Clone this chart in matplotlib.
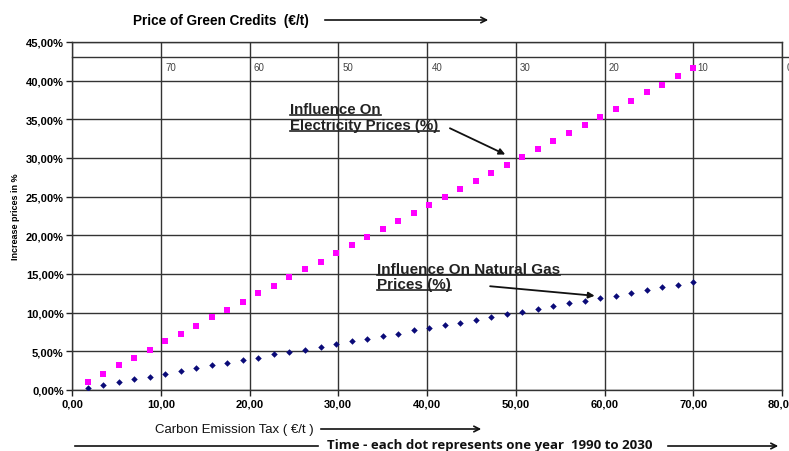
import matplotlib
matplotlib.use('Agg')
import matplotlib.pyplot as plt
from matplotlib.lines import Line2D

plt.rcParams['font.family'] = ['Liberation Sans', 'DejaVu Sans']

# carbon emission tax (EUR/t), one dot per year
tax = [1.75, 3.5, 5.25, 7.0, 8.75, 10.5, 12.25, 14.0, 15.75, 17.5,
       19.25, 21.0, 22.75, 24.5, 26.25, 28.0, 29.75, 31.5, 33.25, 35.0,
       36.75, 38.5, 40.25, 42.0, 43.75, 45.5, 47.25, 49.0, 50.75, 52.5,
       54.25, 56.0, 57.75, 59.5, 61.25, 63.0, 64.75, 66.5, 68.25, 70.0]
# increase in electricity prices (%)
electricity = [1.0, 2.1, 3.2, 4.2, 5.2, 6.3, 7.3, 8.3, 9.4, 10.4,
               11.4, 12.5, 13.5, 14.6, 15.6, 16.6, 17.7, 18.7, 19.8, 20.8,
               21.8, 22.9, 23.9, 24.9, 26.0, 27.0, 28.0, 29.1, 30.1, 31.2,
               32.2, 33.2, 34.3, 35.3, 36.4, 37.4, 38.5, 39.5, 40.6, 41.6]
# increase in natural gas prices (%)
gas = [0.3, 0.7, 1.0, 1.4, 1.7, 2.1, 2.4, 2.8, 3.2, 3.5,
       3.9, 4.2, 4.6, 4.9, 5.2, 5.6, 5.9, 6.3, 6.6, 7.0,
       7.3, 7.7, 8.0, 8.4, 8.7, 9.1, 9.4, 9.8, 10.1, 10.5,
       10.8, 11.2, 11.5, 11.9, 12.2, 12.6, 12.9, 13.3, 13.6, 14.0]

x_ticks = [0, 10, 20, 30, 40, 50, 60, 70, 80]
y_ticks = [0, 5, 10, 15, 20, 25, 30, 35, 40, 45]
credit_labels = ['70', '60', '50', '40', '30', '20', '10', '0']

fig = plt.figure(figsize=(7.89, 4.52), dpi=100)
ax = fig.add_axes([72 / 789, 1 - 391 / 452, 710 / 789, 348 / 452])

ax.scatter(tax, electricity, marker='s', s=24, color='#ff00ff', zorder=3, linewidths=0)
ax.scatter(tax, gas, marker='D', s=11, color='#0a0a78', zorder=3, linewidths=0)

ax.set_xlim(0, 80)
ax.set_ylim(0, 45)
ax.set_xticks(x_ticks)
ax.set_xticklabels(['%d,00' % v for v in x_ticks], fontsize=8, fontweight='bold')
ax.set_yticks(y_ticks)
ax.set_yticklabels(['%d,00%%' % v for v in y_ticks], fontsize=8, fontweight='bold')
ax.tick_params(direction='out', length=4, width=1, color='#222222', pad=2)
ax.grid(True, color='#333333', linewidth=1)
for s in ax.spines.values():
    s.set_color('#333333')
    s.set_linewidth(1)

ax.set_ylabel('Increase prices in %', fontsize=6.5, fontweight='bold', labelpad=4)

# secondary scale: price of green credits
ax.add_line(Line2D([0, 81], [43.1, 43.1], color='#333333', lw=1, clip_on=False))
for xv, lab in zip(x_ticks[1:], credit_labels):
    ax.text(xv + 0.5, 41.8, lab, fontsize=7, color='#444444', va='center', ha='left',
            clip_on=False)

# annotations
ann = [
    ('Influence On', 24.6, 35.8, 10.8),
    ('Electricity Prices (%)', 24.6, 33.8, 10.8),
    ('Influence On Natural Gas', 34.4, 15.1, 11),
    ('Prices (%)', 34.4, 13.2, 11),
]
ann_texts = []
for s, xv, yv, fs in ann:
    t = ax.text(xv, yv, s, fontsize=fs, fontweight='bold', color='#222222',
                va='baseline', ha='left', zorder=4)
    ann_texts.append(t)

ax.annotate('', xy=(49.1, 30.3), xytext=(42.3, 34.0),
            arrowprops=dict(arrowstyle='-|>', color='#111111', lw=1.3, mutation_scale=9))
ax.annotate('', xy=(59.2, 12.15), xytext=(46.8, 13.45),
            arrowprops=dict(arrowstyle='-|>', color='#111111', lw=1.3, mutation_scale=9))

# titles and arrows outside the axes
fig.text(133 / 789, 1 - 21 / 452, 'Price of Green Credits  (€/t)', fontsize=9.8,
         fontweight='bold', va='center', ha='left')
fig.add_artist(matplotlib.patches.FancyArrowPatch(
    (322 / 789, 1 - 21 / 452), (491 / 789, 1 - 21 / 452), transform=fig.transFigure,
    arrowstyle='->', mutation_scale=10, lw=1.2, color='#111111'))

fig.text(155 / 789, 1 - 430 / 452, 'Carbon Emission Tax ( €/t )', fontsize=9.5,
         va='center', ha='left', color='#111111')
fig.add_artist(matplotlib.patches.FancyArrowPatch(
    (318 / 789, 1 - 430 / 452), (484 / 789, 1 - 430 / 452), transform=fig.transFigure,
    arrowstyle='->', mutation_scale=10, lw=1.2, color='#111111'))

fig.add_artist(Line2D([75 / 789, 318 / 789], [1 - 447 / 452, 1 - 447 / 452],
                      transform=fig.transFigure, color='#111111', lw=1.2))
fig.text(327 / 789, 1 - 446 / 452, 'Time - each dot represents one year  1990 to 2030',
         fontsize=9.5, fontweight='bold', family=['Open Sans', 'DejaVu Sans'],
         va='center', ha='left', color='#111111')
fig.add_artist(matplotlib.patches.FancyArrowPatch(
    (665 / 789, 1 - 447 / 452), (781 / 789, 1 - 447 / 452), transform=fig.transFigure,
    arrowstyle='->', mutation_scale=10, lw=1.2, color='#111111'))

# underline the annotation labels
fig.canvas.draw()
r = fig.canvas.get_renderer()
for t in ann_texts:
    bb = t.get_window_extent(r)
    xb, yb = ax.transData.transform((t.get_position()[0], t.get_position()[1]))
    y = (yb - 2) / fig.bbox.height
    fig.add_artist(Line2D([bb.x0 / fig.bbox.width, bb.x1 / fig.bbox.width], [y, y],
                          transform=fig.transFigure, color='#222222', lw=1.2))

fig.savefig('out.png', dpi=100)
